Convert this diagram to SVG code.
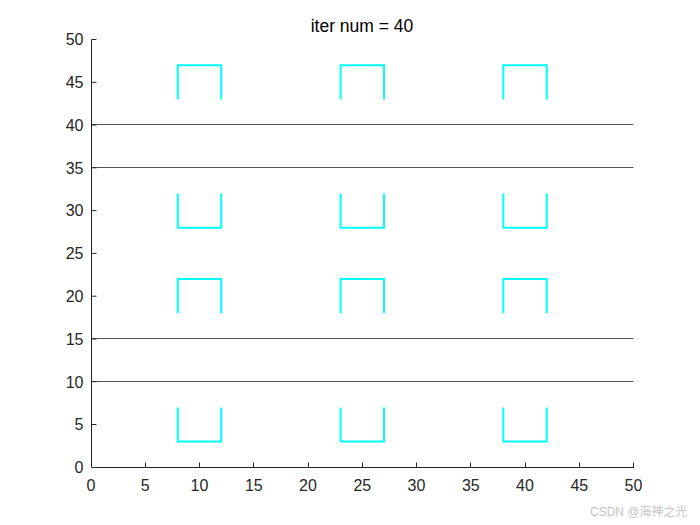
<svg xmlns="http://www.w3.org/2000/svg" width="700" height="525" viewBox="0 0 700 525">
<style>
.ax{stroke:#262626;stroke-width:1;fill:none}
.hl{stroke:#555555;stroke-width:1;fill:none}
.cy{stroke:#00ffff;stroke-width:2;fill:none;stroke-linejoin:miter}
.tl{font-family:"Liberation Sans",Arial,sans-serif;font-size:16px;fill:#262626}
.ttl{font-family:"Liberation Sans",Arial,sans-serif;font-size:17.5px;fill:#000}
.wm{font-family:"Liberation Sans","Noto Sans CJK SC",sans-serif;font-size:12px;fill:#c4c4c4}
</style>
<rect width="700" height="525" fill="#fff"/>
<g id="hlines">
<line class="hl" x1="91" y1="124.5" x2="633.5" y2="124.5"/>
<line class="hl" x1="91" y1="167.5" x2="633.5" y2="167.5"/>
<line class="hl" x1="91" y1="338.5" x2="633.5" y2="338.5"/>
<line class="hl" x1="91" y1="381.5" x2="633.5" y2="381.5"/>
</g>
<g id="shapes">
<polyline class="cy" points="177.8,99.4 177.8,65.2 221.2,65.2 221.2,99.4"/>
<polyline class="cy" points="340.6,99.4 340.6,65.2 384,65.2 384,99.4"/>
<polyline class="cy" points="503.3,99.4 503.3,65.2 546.7,65.2 546.7,99.4"/>
<polyline class="cy" points="177.8,193.5 177.8,227.7 221.2,227.7 221.2,193.5"/>
<polyline class="cy" points="340.6,193.5 340.6,227.7 384,227.7 384,193.5"/>
<polyline class="cy" points="503.3,193.5 503.3,227.7 546.7,227.7 546.7,193.5"/>
<polyline class="cy" points="177.8,313.2 177.8,279 221.2,279 221.2,313.2"/>
<polyline class="cy" points="340.6,313.2 340.6,279 384,279 384,313.2"/>
<polyline class="cy" points="503.3,313.2 503.3,279 546.7,279 546.7,313.2"/>
<polyline class="cy" points="177.8,407.4 177.8,441.6 221.2,441.6 221.2,407.4"/>
<polyline class="cy" points="340.6,407.4 340.6,441.6 384,441.6 384,407.4"/>
<polyline class="cy" points="503.3,407.4 503.3,441.6 546.7,441.6 546.7,407.4"/>
</g>
<g id="axes">
<polyline class="ax" points="91.5,39.5 91.5,467.5 634,467.5"/>
<path class="ax" d="M91.5,39.5h5M91.5,82.3h5M91.5,125h5M91.5,167.8h5M91.5,210.6h5M91.5,253.4h5M91.5,296.2h5M91.5,339h5M91.5,381.7h5M91.5,424.5h5"/>
<path class="ax" d="M145.5,467.5v-5M199.5,467.5v-5M253.5,467.5v-5M308.5,467.5v-5M362.5,467.5v-5M416.5,467.5v-5M470.5,467.5v-5M525.5,467.5v-5M579.5,467.5v-5M633.5,467.5v-5"/>
<g class="tl" text-anchor="end">
<text x="83.5" y="45.3">50</text>
<text x="83.5" y="88.1">45</text>
<text x="83.5" y="130.8">40</text>
<text x="83.5" y="173.6">35</text>
<text x="83.5" y="216.4">30</text>
<text x="83.5" y="259.2">25</text>
<text x="83.5" y="302">20</text>
<text x="83.5" y="344.8">15</text>
<text x="83.5" y="387.5">10</text>
<text x="83.5" y="430.3">5</text>
<text x="83.5" y="473.1">0</text>
</g>
<g class="tl" text-anchor="middle">
<text x="91" y="491">0</text>
<text x="145.3" y="491">5</text>
<text x="199.5" y="491">10</text>
<text x="253.8" y="491">15</text>
<text x="308" y="491">20</text>
<text x="362.3" y="491">25</text>
<text x="416.5" y="491">30</text>
<text x="470.8" y="491">35</text>
<text x="525" y="491">40</text>
<text x="579.3" y="491">45</text>
<text x="633.5" y="491">50</text>
</g>
</g>
<text id="title" class="ttl" x="362" y="31.5" text-anchor="middle">iter num = 40</text>
<text id="watermark" class="wm" x="590" y="516">CSDN @海神之光</text>
</svg>
